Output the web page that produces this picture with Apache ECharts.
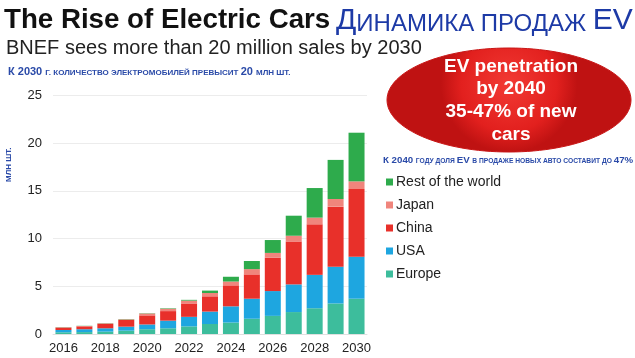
<!DOCTYPE html>
<html><head><meta charset="utf-8">
<script src="https://cdn.jsdelivr.net/npm/echarts@6/dist/echarts.min.js"></script>
<style>html,body{margin:0;padding:0;background:#fff}#c{width:635px;height:358px}</style>
</head><body><div id="c"></div>
<script>
var years = ['2016','2017','2018','2019','2020','2021','2022','2023','2024','2025','2026','2027','2028','2029','2030'];
var europe = [0.18,0.2,0.25,0.35,0.5,0.6,0.8,1.05,1.2,1.6,1.9,2.3,2.7,3.2,3.7];
var usa    = [0.24,0.3,0.35,0.42,0.5,0.8,1.0,1.3,1.7,2.1,2.6,2.9,3.5,3.85,4.4];
var china  = [0.25,0.3,0.45,0.7,0.95,1.0,1.4,1.6,2.2,2.55,3.5,4.5,5.3,6.3,7.1];
var japan  = [0.03,0.04,0.07,0.07,0.2,0.25,0.3,0.35,0.4,0.55,0.5,0.6,0.7,0.8,0.8];
var rest   = [0.02,0.02,0.02,0.03,0.03,0.05,0.08,0.25,0.5,0.85,1.35,2.1,3.1,4.1,5.1];
var seriesNames = ['Europe','USA','China','Japan','Rest of the world'];
var legendOrder = ['Rest of the world','Japan','China','USA','Europe'];
var colors = ['#3dbd9c','#1ea6e0','#e8302a','#f0857c','#2eab4c'];

var chart = echarts.init(document.getElementById('c'));
var F = 'Liberation Sans, Arial, Helvetica, sans-serif';
var dataSets = [europe, usa, china, japan, rest];
var series = seriesNames.map(function(n,i){
  return {name:n,type:'bar',stack:'t',data:dataSets[i],barWidth:16,itemStyle:{color:colors[i]}};
});
chart.setOption({
  animation:false,
  textStyle:{fontFamily:F},
  title:[
    {text:'The Rise of Electric Cars',left:4,top:6,padding:0,textStyle:{fontFamily:F,fontSize:27.7,fontWeight:'bold',color:'#111'}},
    {text:'{a|Д}{b|ИНАМИКА ПРОДАЖ }{a|EV}',left:336,top:6,padding:0,textStyle:{fontWeight:'normal',fontSize:8,rich:{
      a:{fontFamily:F,fontSize:30,fontWeight:'normal',color:'#1d3aa6',verticalAlign:'bottom'},
      b:{fontFamily:F,fontSize:24,fontWeight:'normal',color:'#1d3aa6',verticalAlign:'bottom'}}}},
    {text:'BNEF sees more than 20 million sales by 2030',left:6,top:38,padding:0,textStyle:{fontFamily:F,fontSize:20,fontWeight:'normal',color:'#222'}},
    {text:'{b|К 2030 }{s|Г. КОЛИЧЕСТВО ЭЛЕКТРОМОБИЛЕЙ ПРЕВЫСИТ }{b|20 }{s|МЛН ШТ.}',left:8,top:66,padding:0,textStyle:{fontSize:6,rich:{
      b:{fontFamily:F,fontSize:11,fontWeight:'bold',color:'#2a4aa8',verticalAlign:'bottom'},
      s:{fontFamily:F,fontSize:8,fontWeight:'bold',color:'#2a4aa8',verticalAlign:'bottom'}}}},
    {text:'{b|К 2040 }{s|ГОДУ ДОЛЯ }{b|EV }{s|В ПРОДАЖЕ НОВЫХ АВТО СОСТАВИТ ДО }{b|47%}',left:383,top:155,padding:0,textStyle:{fontSize:6,rich:{
      b:{fontFamily:F,fontSize:9.7,fontWeight:'bold',color:'#2a4aa8',verticalAlign:'bottom'},
      s:{fontFamily:F,fontSize:6.7,fontWeight:'bold',color:'#2a4aa8',verticalAlign:'bottom'}}}}
  ],
  legend:{
    data:legendOrder, orient:'vertical', left:381, top:170, itemWidth:7, itemHeight:7, itemGap:9,
    icon:'rect', textStyle:{fontFamily:F,fontSize:14,color:'#222',padding:[0,0,0,-2]}
  },
  grid:{left:53,right:268,top:95.5,bottom:24},
  xAxis:{type:'category',data:years,
    axisLine:{lineStyle:{color:'#e0e0e0'}},axisTick:{show:false},
    axisLabel:{interval:1,fontSize:13,color:'#222',margin:8,fontFamily:F}},
  yAxis:{type:'value',min:0,max:25,interval:5,
    axisLabel:{fontSize:13,color:'#222',margin:11,fontFamily:F},
    splitLine:{lineStyle:{color:'#ececec'}},axisLine:{show:false},axisTick:{show:false}},
  graphic:[
    {type:'text',x:5,y:182,rotation:Math.PI/2,style:{text:'МЛН ШТ.',fill:'#2a4aa8',font:'bold 8px '+F}},
    {type:'ellipse',shape:{cx:509,cy:100,rx:122,ry:52},z:10,
      style:{fill:{type:'radial',x:0.5,y:0.35,r:0.65,colorStops:[{offset:0,color:'#f23a34'},{offset:0.7,color:'#e2201e'},{offset:1,color:'#bf1212'}]},
        stroke:'#c81616',lineWidth:1}},
    {type:'text',x:511,y:55,z:11,style:{text:'EV penetration\nby 2040\n35-47% of new\ncars',fill:'#fff',font:'bold 19px '+F,align:'center',lineHeight:22.7}}
  ],
  series:series
});
</script></body></html>
